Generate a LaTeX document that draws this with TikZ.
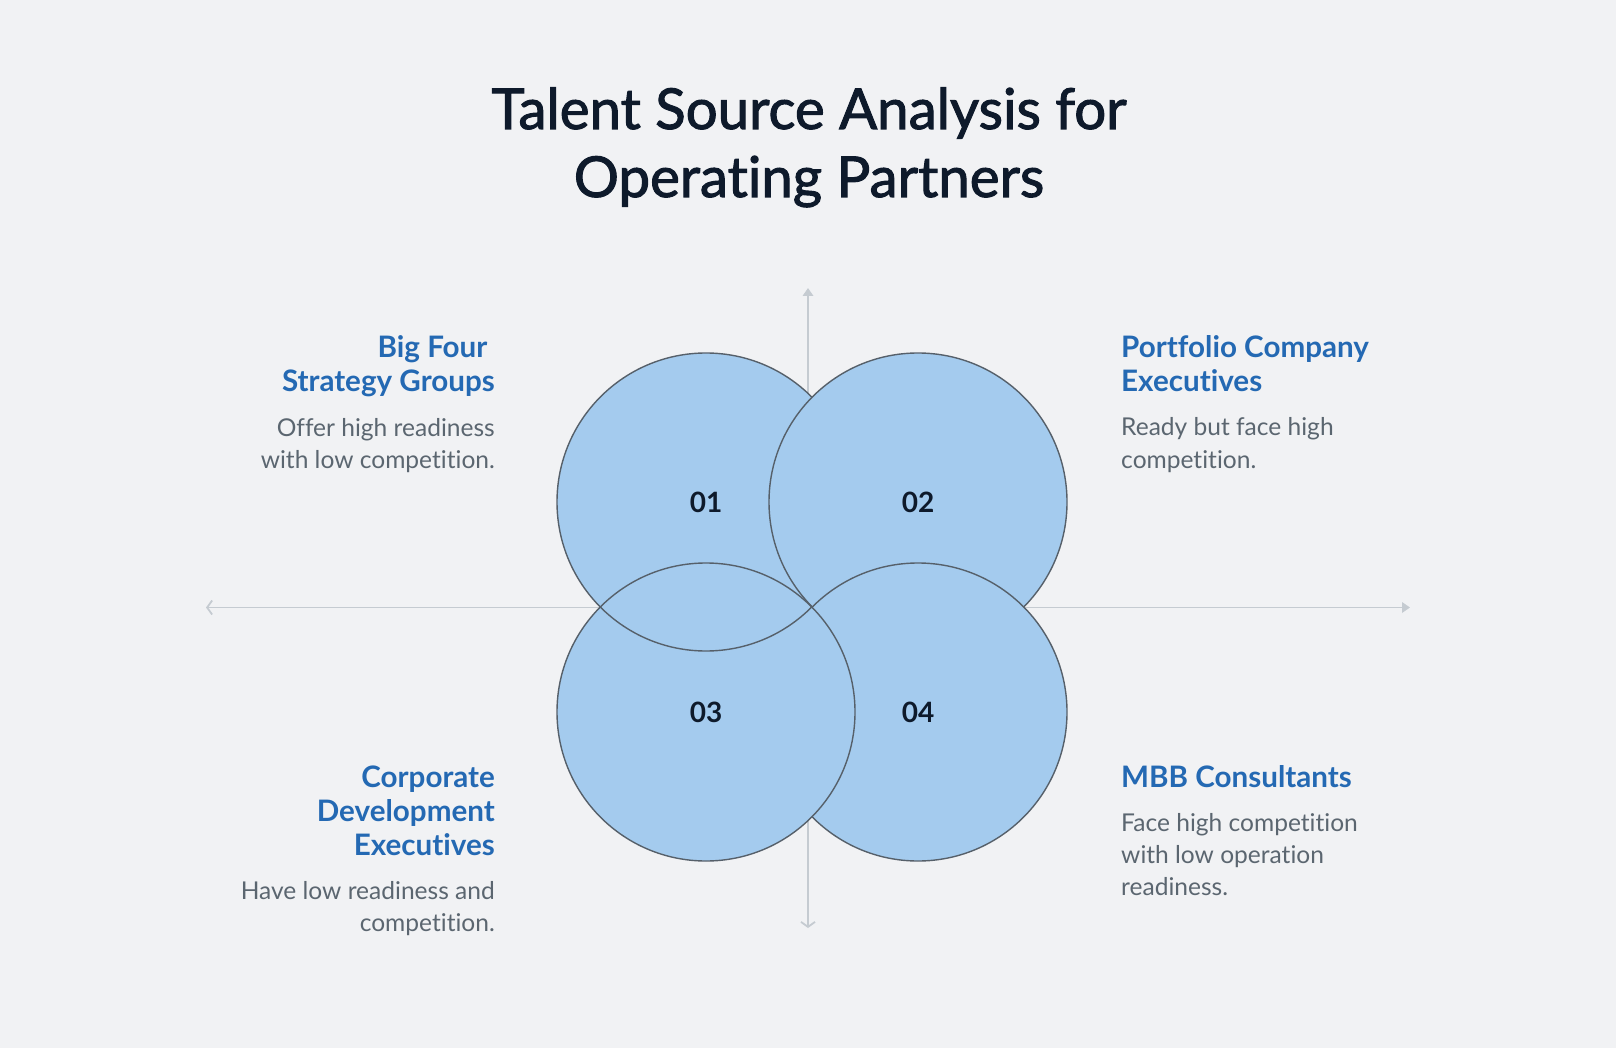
\documentclass[tikz,border=0pt]{standalone}
\usepackage{fontspec}
\setmainfont{Lato}[Ligatures={NoCommon,NoRare,NoDiscretionary}]
\newfontfamily\titlefont[FakeBold=1.8,Ligatures={NoCommon,NoRare,NoDiscretionary}]{Lato}
\usetikzlibrary{arrows.meta}
\definecolor{bg}{HTML}{F1F2F4}
\definecolor{titlec}{HTML}{0E1A2B}
\definecolor{headc}{HTML}{2469B3}
\definecolor{bodyc}{HTML}{5B6670}
\definecolor{circf}{HTML}{A4CBEE}
\definecolor{circd}{HTML}{56606A}
\definecolor{axisc}{HTML}{C5CBD1}
\newsavebox\mytmpbox
\AtBeginDocument{%
  \sbox\mytmpbox{\titlefont\fontsize{10}{10}\selectfont Talent Source Analysis for}%
  \pgfmathsetmacro\tsz{10*635/\wd\mytmpbox}\global\let\tsz\tsz
  \sbox\mytmpbox{\bfseries\fontsize{10}{10}\selectfont Portfolio Company}%
  \pgfmathsetmacro\hsz{10*247.7/\wd\mytmpbox}\global\let\hsz\hsz
  \sbox\mytmpbox{\fontsize{10}{10}\selectfont Have low readiness and}%
  \pgfmathsetmacro\bsz{10*254/\wd\mytmpbox}\global\let\bsz\bsz
}
\begin{document}
\begin{tikzpicture}[x=1pt,y=-1pt,
  titletxt/.style={font=\titlefont\fontsize{\tsz}{\tsz}\selectfont, text=titlec, inner sep=0, anchor=base},
  headl/.style={font=\bfseries\fontsize{\hsz}{\hsz}\selectfont, text=headc, inner sep=0, anchor=base east},
  headr/.style={font=\bfseries\fontsize{\hsz}{\hsz}\selectfont, text=headc, inner sep=0, anchor=base west},
  bodyl/.style={font=\fontsize{\bsz}{\bsz}\selectfont, text=bodyc, inner sep=0, anchor=base east},
  bodyr/.style={font=\fontsize{\bsz}{\bsz}\selectfont, text=bodyc, inner sep=0, anchor=base west},
  bubble/.style={circle, minimum size=298pt, inner sep=0, fill=circf, draw=circd, line width=1.4pt,
    font=\bfseries\fontsize{28}{28}\selectfont, text=titlec},
  axisline/.style={draw=axisc, line width=1.8pt}
]
\fill[bg] (0,0) rectangle (1616,1048);
\useasboundingbox (0,0) rectangle (1616,1048);

% title
\node[titletxt] (t1) at (809,129) {Talent Source Analysis for};
\node[titletxt] (t2) at (809,197) {Operating Partners};

% axes
\coordinate (xl) at (206,607.5);
\coordinate (xr) at (1410,607.5);
\coordinate (yb) at (808,928);
\coordinate (yt) at (808,288);
\draw[axisline, arrows={Straight Barb[length=5pt,width=14pt]-Triangle[length=8pt,width=10.5pt]}] (xl) -- (xr);
\draw[axisline, arrows={Straight Barb[length=5pt,width=14pt]-Triangle[length=8pt,width=10.5pt]}] (yb) -- (yt);

% circles
\node[bubble] (c1) at (706,502) {01};
\node[bubble] (c2) at (918,502) {02};
\node[bubble] (c4) at (918,712) {04};
\node[bubble] (c3) at (706,712) {03};
\begin{scope}
  \clip (c3.center) circle (149pt);
  \draw[circd, line width=1.4pt] (c1.center) circle (149pt);
\end{scope}

% top-left
\node[headl] (h1a) at (495,357) {Big Four\hspace*{0.25em}};
\node[headl] (h1b) at (495,391) {Strategy Groups};
\node[bodyl] (b1a) at (495,436) {Offer high readiness};
\node[bodyl] (b1b) at (495,468.5) {with low competition.};

% top-right
\node[headr] (h2a) at (1121,357) {Portfolio Company};
\node[headr] (h2b) at (1121,391) {Executives};
\node[bodyr] (b2a) at (1121,435.5) {Ready but face high};
\node[bodyr] (b2b) at (1121,468) {competition.};

% bottom-left
\node[headl] (h3a) at (495,787) {Corporate};
\node[headl] (h3b) at (495,821) {Development};
\node[headl] (h3c) at (495,855) {Executives};
\node[bodyl] (b3a) at (495,899) {Have low readiness and};
\node[bodyl] (b3b) at (495,931) {competition.};

% bottom-right
\node[headr] (h4a) at (1121,787) {MBB Consultants};
\node[bodyr] (b4a) at (1121,831.5) {Face high competition};
\node[bodyr] (b4b) at (1121,863.5) {with low operation};
\node[bodyr] (b4c) at (1121,895.5) {readiness.};
\end{tikzpicture}
\end{document}
